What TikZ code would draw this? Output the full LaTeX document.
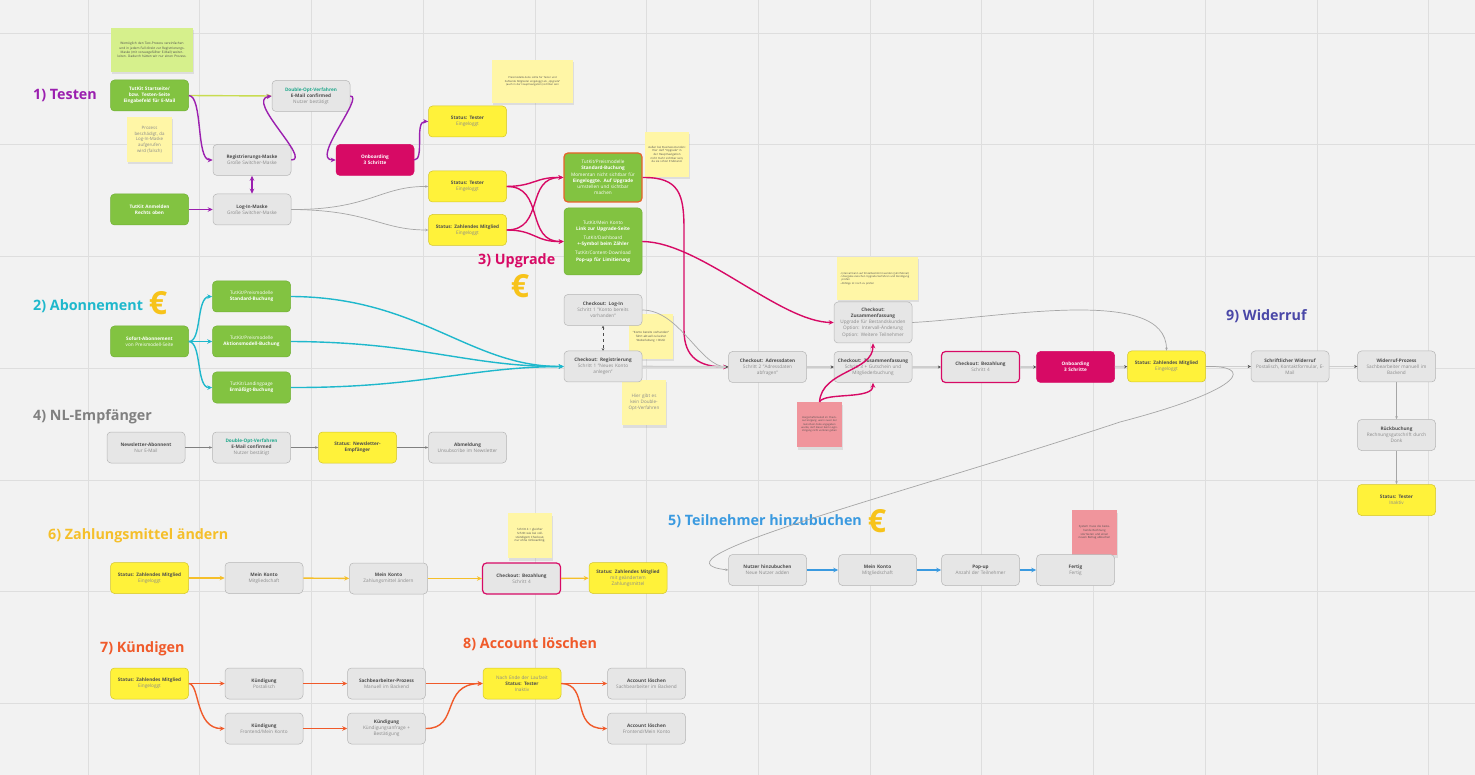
\documentclass[tikz,border=0pt]{standalone}
\usepackage{fontspec}
\setmainfont{Open Sans}
\usetikzlibrary{arrows.meta,shadows}
\definecolor{bgc}{HTML}{F2F2F2}
\definecolor{gridc}{HTML}{DEDEDE}
\definecolor{boxg}{HTML}{E6E6E6}
\definecolor{boxgl}{HTML}{B5B5B5}
\definecolor{tdark}{HTML}{4D4D4D}
\definecolor{tlight}{HTML}{8A8A8A}
\definecolor{ylw}{HTML}{FFF23A}
\definecolor{ylwl}{HTML}{D4C52A}
\definecolor{grn}{HTML}{82C341}
\definecolor{grnl}{HTML}{72B036}
\definecolor{magc}{HTML}{D70A65}
\definecolor{orng}{HTML}{E8622A}
\definecolor{sty}{HTML}{FFF6A6}
\definecolor{stg}{HTML}{D6F08C}
\definecolor{stp}{HTML}{F0959C}
\definecolor{pur}{HTML}{9B1FAF}
\definecolor{cyn}{HTML}{1FB8CC}
\definecolor{blu}{HTML}{3A9AE0}
\definecolor{gld}{HTML}{F5BF2A}
\definecolor{org}{HTML}{F05A2A}
\definecolor{ind}{HTML}{4A48A8}
\definecolor{nlg}{HTML}{808080}
\definecolor{tealc}{HTML}{21A88C}
\definecolor{eur}{HTML}{F7C31A}
\definecolor{ygl}{HTML}{C8DC50}
\definecolor{lgray}{HTML}{A6A6A6}
\newcommand{\hbx}[1]{{\bfseries\color{tdark}#1}}
\begin{document}
\begin{tikzpicture}[x=1pt,y=-1pt,
  box/.style={rounded corners=4pt, minimum width=78pt, minimum height=31pt, text width=74pt, align=center, inner sep=2pt, font=\fontsize{4.7}{6.2}\selectfont, line width=0.5pt},
  gbox/.style={box, fill=boxg, draw=boxgl, text=tlight},
  ybox/.style={box, fill=ylw, draw=ylwl, text=tlight},
  gnbox/.style={box, fill=grn, draw=grnl, text=white},
  gnb/.style={gnbox, font=\fontsize{4.7}{6.2}\selectfont\bfseries},
  mbox/.style={box, fill=magc, draw=magc, text=white, font=\fontsize{4.7}{6.2}\selectfont\bfseries},
  mbbox/.style={gbox, draw=magc, line width=1.2pt},
  stk/.style={fill=sty, inner xsep=3pt, inner ysep=2pt, align=center, text width=#1, minimum height=45pt, text=tdark, font=\fontsize{3}{4}\selectfont, drop shadow={opacity=0.18, shadow xshift=0.5pt, shadow yshift=-2.5pt}},
  title/.style={anchor=west, inner sep=0pt, font=\fontsize{14.3}{16}\selectfont\bfseries},
  euro/.style={inner sep=0pt, text=eur, font=\fontsize{32}{32}\selectfont\bfseries},
  con/.style={line width=1.4pt, -{Stealth[length=5pt,width=4.5pt]}},
  gcon/.style={draw=lgray, line width=0.7pt, -{Stealth[length=3pt,width=2.5pt]}},
  flow/.style={draw=lgray!55, line width=1.8pt, -{Stealth[length=3pt,width=3pt,color=tdark]}},
]
\useasboundingbox (0,0) rectangle (1475,775);
\fill[bgc] (0,0) rectangle (1475,775);
\foreach \x in {88,199.7,311.4,423,534.8,646.5,758,870,981.6,1093,1205,1317,1428.5}
  \draw[gridc, line width=0.6pt] (\x,0) -- (\x,775);
\foreach \y in {33,144.7,256.4,368,479.8,591.5,703}
  \draw[gridc, line width=0.6pt] (0,\y) -- (1475,\y);

% ---------- titles
\node[title, text=pur] (ti1) at (33,96) {1) Testen};
\node[title, text=cyn] (ti2) at (33,306) {2) Abonnement};
\node[euro] (eu2) at (158,303) {€};
\node[title, text=magc] (ti3) at (478,261) {3) Upgrade};
\node[euro] (eu3) at (520,286) {€};
\node[title, text=nlg] (ti4) at (33,417) {4) NL-Empfänger};
\node[title, text=blu] (ti5) at (668,521) {5) Teilnehmer hinzubuchen};
\node[euro] (eu5) at (877,521) {€};
\node[title, text=gld] (ti6) at (48,536) {6) Zahlungsmittel ändern};
\node[title, text=org] (ti7) at (100,649) {7) Kündigen};
\node[title, text=org] (ti8) at (463,644) {8) Account löschen};
\node[title, text=ind] (ti9) at (1226,316) {9) Widerruf};

% ---------- sticky notes
\node[stk=76pt, fill=stg, minimum height=44pt, font=\fontsize{3.2}{4.2}\selectfont] (s1a) at (152,50) {Womöglich den Test-Prozess vereinfachen und in jedem Fall direkt zur Registrierungs-Maske (mit vorausgefüllter E-Mail) weiterleiten. Dadurch hätten wir nur einen Prozess.};
\node[stk=39pt, font=\fontsize{4.4}{5.7}\selectfont, text=tlight] (s1b) at (149.5,139.5) {Prozess beschädigt, da Log-In-Maske aufgerufen wird (falsch)};
\node[stk=75pt, minimum height=43pt, font=\fontsize{2.6}{3.4}\selectfont] (s1c) at (532.5,81.5) {Preismodelle-Seite sollte für Tester und Zahlende Mitglieder eingeloggt als „Upgrade“ (auch in der Hauptnavigation) sichtbar sein};
\node[stk=38pt, font=\fontsize{2.8}{3.7}\selectfont] (s3a) at (667,154.5) {Außer bei Business-Kunden: Hier darf "Upgrade" in der Hauptnavigation nicht mehr sichtbar sein, da sie schon Endstand.};
\node[stk=75pt, minimum height=43pt, align=left, font=\fontsize{2.6}{3.4}\selectfont] (s3b) at (877.5,278.5) {- Intervall kann auf Einzelbestimmt werden (Jahr/Monat)\\- Übergabe zwischen Upgrade-Verfahren und Kündigung\\ \hphantom{- }prüfen\\- Abfolge ist noch zu prüfen};
\node[stk=38pt, font=\fontsize{2.9}{3.8}\selectfont] (s3c) at (651,336.5) {"Konto bereits vorhanden" führt aktuell zu keiner Weiterleitung = BUG!};
\node[stk=38pt, font=\fontsize{4.6}{6.1}\selectfont, text=tlight] (s3d) at (644,402.5) {Hier gibt es kein Double-Opt-Verfahren};
\node[stk=39pt, fill=stp, font=\fontsize{2.5}{3.3}\selectfont] (s3e) at (819.5,424.5) {Bürgschaftsmodell im Check-out-Vorgang: wenn zuvor der Gutschein-Code angegeben wurde, darf dieser beim Login-Vorgang nicht verloren gehen};
\node[stk=39pt, fill=stp, font=\fontsize{2.8}{3.7}\selectfont] (s5) at (1094.5,532.5) {System muss die bestehende Rechnung stornieren und einen neuen Betrag abbuchen};
\node[stk=38pt, font=\fontsize{2.9}{3.8}\selectfont] (s6) at (530,535.5) {Schritt 4 = gleicher Schritt wie bei vollständigem Checkout, nur ohne Onboarding.};

% ---------- 1) Testen
\node[gnb] (n1start) at (149.5,95.5) {TutKit Startseite/\\bzw. Testen-Seite\\Eingabefeld für E-Mail};
\node[gnb] (n1anm) at (149.5,209.5) {TutKit Anmelden\\Rechts oben};
\node[gbox] (n1reg) at (252,160) {\hbx{Registrierungs-Maske}\\Große Switcher-Maske};
\node[gbox] (n1log) at (252,209.5) {\hbx{Log-In-Maske}\\Große Switcher-Maske};
\node[gbox] (n1doi) at (311,96) {{\bfseries\color{tealc}Double-Opt-Verfahren}\\\hbx{E-Mail confirmed}\\Nutzer bestätigt};
\node[mbox] (n1onb) at (375,160) {Onboarding\\3 Schritte};
\node[ybox] (n1tt) at (467.5,121.5) {\hbx{Status: Tester}\\Eingeloggt};
\node[ybox] (n1tm) at (467.5,186.5) {\hbx{Status: Tester}\\Eingeloggt};
\node[ybox] (n1zm) at (467.5,230) {\hbx{Status: Zahlendes Mitglied}\\Eingeloggt};

% ---------- 3) Upgrade
\node[gnbox, draw=orng, line width=1.2pt, minimum height=49pt] (n3pm) at (603,177.5) {TutKit/Preismodelle\\\textbf{Standard-Buchung}\\Momentan nicht sichtbar für\\\textbf{Eingeloggte. Auf Upgrade}\\umstellen und sichtbar\\machen};
\node[gnbox, minimum height=67pt] (n3mk) at (603,241.5) {TutKit/Mein Konto\\\textbf{Link zur Upgrade-Seite}\\[3pt]TutKit/Dashboard\\\textbf{+-Symbol beim Zähler}\\[3pt]TutKit/Content-Download\\\textbf{Pop-up für Limitierung}};

% ---------- Checkout
\node[gbox] (c1log) at (603,310) {\hbx{Checkout: Log-In}\\Schritt 1 "Konto bereits\\vorhanden"};
\node[gbox] (c1reg) at (603,366.5) {\hbx{Checkout: Registrierung}\\Schritt 1 "Neues Konto\\anlegen"};
\node[gbox] (cadr) at (767.5,367) {\hbx{Checkout: Adressdaten}\\Schritt 2 "Adressdaten\\abfragen"};
\node[gbox, minimum height=41pt] (czu1) at (873,322.5) {\hbx{Checkout:}\\\hbx{Zusammenfassung}\\Upgrade für Bestandskunden\\Option: Intervall-Änderung\\Option: Weitere Teilnehmer};
\node[gbox] (czu2) at (873,367) {\hbx{Checkout: Zusammenfassung}\\Schritt 3 + Gutschein und\\Mitgliederbuchung};
\node[mbbox] (cbez) at (980.5,367) {\hbx{Checkout: Bezahlung}\\Schritt 4};
\node[mbox] (conb) at (1075.5,367) {Onboarding\\3 Schritte};
\node[ybox] (czm) at (1166.5,366.5) {\hbx{Status: Zahlendes Mitglied}\\Eingeloggt};

% ---------- 2) Abonnement
\node[gnbox] (a2so) at (149.5,341.5) {\textbf{Sofort-Abonnement}\\von Preismodell-Seite};
\node[gnbox] (a2st) at (251.5,296.5) {TutKit/Preismodelle\\\textbf{Standard-Buchung}};
\node[gnbox] (a2ak) at (251.5,341.5) {TutKit/Preismodelle\\\textbf{Aktionsmodell-Buchung}};
\node[gnbox] (a2la) at (251.5,387.5) {TutKit/Landingpage\\\textbf{Ermäßigt-Buchung}};

% ---------- 4) NL
\node[gbox] (nlab) at (146,447.5) {\hbx{Newsletter-Abonnent}\\Nur E-Mail};
\node[gbox] (nldoi) at (251.5,447.5) {{\bfseries\color{tealc}Double-Opt-Verfahren}\\\hbx{E-Mail confirmed}\\Nutzer bestätigt};
\node[ybox, font=\fontsize{4.7}{6.2}\selectfont\bfseries, text=tdark] (nlst) at (357.5,447.5) {Status: Newsletter-\\Empfänger};
\node[gbox] (nlabm) at (467.5,447.5) {\hbx{Abmeldung}\\Unsubscribe im Newsletter};

% ---------- 9) Widerruf
\node[gbox] (w1) at (1290,366.5) {\hbx{Schriftlicher Widerruf}\\Postalisch, Kontaktformular, E-\\Mail};
\node[gbox] (w2) at (1396.5,366.5) {\hbx{Widerruf-Prozess}\\Sachbearbeiter manuell im\\Backend};
\node[gbox] (w3) at (1396.5,435) {\hbx{Rückbuchung}\\Rechnungsgutschrift durch\\Donk};
\node[ybox] (w4) at (1396.5,500) {\hbx{Status: Tester}\\Inaktiv};

% ---------- 5) Teilnehmer
\node[gbox] (t1) at (767.5,570) {\hbx{Nutzer hinzubuchen}\\Neue Nutzer adden};
\node[gbox] (t2) at (877.5,570) {\hbx{Mein Konto}\\Mitgliedschaft};
\node[gbox] (t3) at (980.5,570) {\hbx{Pop-up}\\Anzahl der Teilnehmer};
\node[gbox] (t4) at (1075.5,570) {\hbx{Fertig}\\Fertig};

% ---------- 6) Zahlungsmittel
\node[ybox] (z1) at (149.5,578) {\hbx{Status: Zahlendes Mitglied}\\Eingeloggt};
\node[gbox] (z2) at (264,578) {\hbx{Mein Konto}\\Mitgliedschaft};
\node[gbox] (z3) at (388.5,578.5) {\hbx{Mein Konto}\\Zahlungsmittel ändern};
\node[mbbox] (z4) at (521.5,578.5) {\hbx{Checkout: Bezahlung}\\Schritt 4};
\node[ybox] (z5) at (628,578) {\hbx{Status: Zahlendes Mitglied}\\mit geändertem\\Zahlungsmittel};

% ---------- 7) / 8)
\node[ybox] (k1) at (149.5,683.5) {\hbx{Status: Zahlendes Mitglied}\\Eingeloggt};
\node[gbox] (k2) at (264,683.5) {\hbx{Kündigung}\\Postalisch};
\node[gbox] (k3) at (386.5,683.5) {\hbx{Sachbearbeiter-Prozess}\\Manuell im Backend};
\node[gbox] (k4) at (264,728.5) {\hbx{Kündigung}\\Frontend/Mein Konto};
\node[gbox] (k5) at (386.5,728.5) {\hbx{Kündigung}\\Kündigungsanfrage +\\Bestätigung};
\node[ybox] (a1) at (522,683.5) {Nach Ende der Laufzeit\\\hbx{Status: Tester}\\Inaktiv};
\node[gbox] (a2) at (646.5,683.5) {\hbx{Account löschen}\\Sachbearbeiter im Backend};
\node[gbox] (a3) at (646.5,728.5) {\hbx{Account löschen}\\Frontend/Mein Konto};

% ========== connectors
% 1) Testen
\draw[con, ygl] (n1start.east) -- (n1doi.west);
\draw[con, pur] (n1start.east) .. controls (203,96) and (196,160) .. (n1reg.west);
\draw[con, pur] (n1reg.east) .. controls (312,160) and (245,100) .. (n1doi.west);
\draw[con, pur] (n1doi.east) .. controls (365,96) and (310,160) .. (n1onb.west);
\draw[con, pur] (n1onb.east) .. controls (425,160) and (414,121) .. (n1tt.west);
\draw[pur, line width=1.4pt, {Stealth[length=5pt,width=4.5pt]}-{Stealth[length=5pt,width=4.5pt]}] (n1reg) -- (n1log);
\draw[con, pur] (n1anm) -- (n1log);
\draw[gcon] (n1log.east) .. controls (370,210) and (380,186) .. (n1tm.west);
\draw[gcon] (n1log.east) .. controls (370,210) and (380,230) .. (n1zm.west);
% 3) Upgrade
\draw[con, magc] (n1tm.east) .. controls (535,186) and (535,177) .. (n3pm.west);
\draw[con, magc] (n1tm.east) .. controls (545,186) and (525,242) .. (n3mk.west);
\draw[con, magc] (n1zm.east) .. controls (545,230) and (525,177) .. (n3pm.west);
\draw[con, magc] (n1zm.east) .. controls (535,230) and (535,242) .. (n3mk.west);
\draw[con, magc] (n3pm.east) .. controls (680,177) and (684,195) .. (684,230) -- (684,330) .. controls (684,358) and (700,367) .. (cadr.west);
\draw[con, magc] (n3mk.east) .. controls (700,242) and (780,322) .. (czu1.west);
\draw[con, magc] (s3e.north) .. controls (822,370) and (873,372) .. (czu1.south);
\draw[con, magc] (s3e.north) .. controls (825,392) and (873,400) .. (czu2.south);
% checkout flow
\draw[tdark, dashed, line width=0.6pt, {Stealth[length=2.5pt,width=2.5pt]}-{Stealth[length=2.5pt,width=2.5pt]}] (c1log) -- (c1reg);
\draw[gcon] (c1log.east) .. controls (680,310) and (700,367) .. (cadr.west);
\draw[flow] (c1reg) -- (cadr);
\draw[flow] (cadr) -- (czu2);
\draw[flow] (czu2) -- (cbez);
\draw[flow] (cbez) -- (conb);
\draw[flow] (conb) -- (czm);
\draw[gcon] (czu1.east) .. controls (1000,318) and (1166,285) .. (czm.north);
% 9) Widerruf
\draw[flow] (czm) -- (w1);
\draw[flow] (w1) -- (w2);
\draw[gcon] (w2) -- (w3);
\draw[gcon] (w3) -- (w4);
\draw[gcon] (czm.east) .. controls (1252,365) and (1250,388) .. (1120,422) .. controls (900,495) and (640,560) .. (t1.west);
% 2) Abonnement
\draw[con, cyn] (a2so.east) .. controls (202,342) and (196,297) .. (a2st.west);
\draw[con, cyn] (a2so) -- (a2ak);
\draw[con, cyn] (a2so.east) .. controls (202,342) and (196,388) .. (a2la.west);
\draw[con, cyn] (a2st.east) .. controls (420,297) and (470,367) .. (c1reg.west);
\draw[con, cyn] (a2ak.east) .. controls (420,342) and (470,367) .. (c1reg.west);
\draw[con, cyn] (a2la.east) .. controls (420,388) and (470,367) .. (c1reg.west);
% 4) NL
\draw[gcon, draw=nlg, line width=0.9pt] (nlab) -- (nldoi);
\draw[gcon, draw=nlg, line width=0.9pt] (nldoi) -- (nlst);
\draw[gcon, draw=nlg, line width=0.9pt] (nlst) -- (nlabm);
% 5) Teilnehmer
\draw[con, blu] (t1) -- (t2);
\draw[con, blu] (t2) -- (t3);
\draw[con, blu] (t3) -- (t4);
% 6) Zahlungsmittel
\draw[con, gld] (z1) -- (z2);
\draw[con, gld] (z2) -- (z3);
\draw[con, gld] (z3) -- (z4);
\draw[con, gld] (z4) -- (z5);
% 7) 8)
\draw[con, org] (k1) -- (k2);
\draw[con, org] (k1.east) .. controls (200,684) and (195,729) .. (k4.west);
\draw[con, org] (k2) -- (k3);
\draw[con, org] (k4) -- (k5);
\draw[con, org] (k3) -- (a1);
\draw[con, org] (k5.east) .. controls (460,729) and (440,684) .. (a1.west);
\draw[con, org] (a1) -- (a2);
\draw[con, org] (a1.east) .. controls (590,684) and (570,729) .. (a3.west);
\end{tikzpicture}
\end{document}
